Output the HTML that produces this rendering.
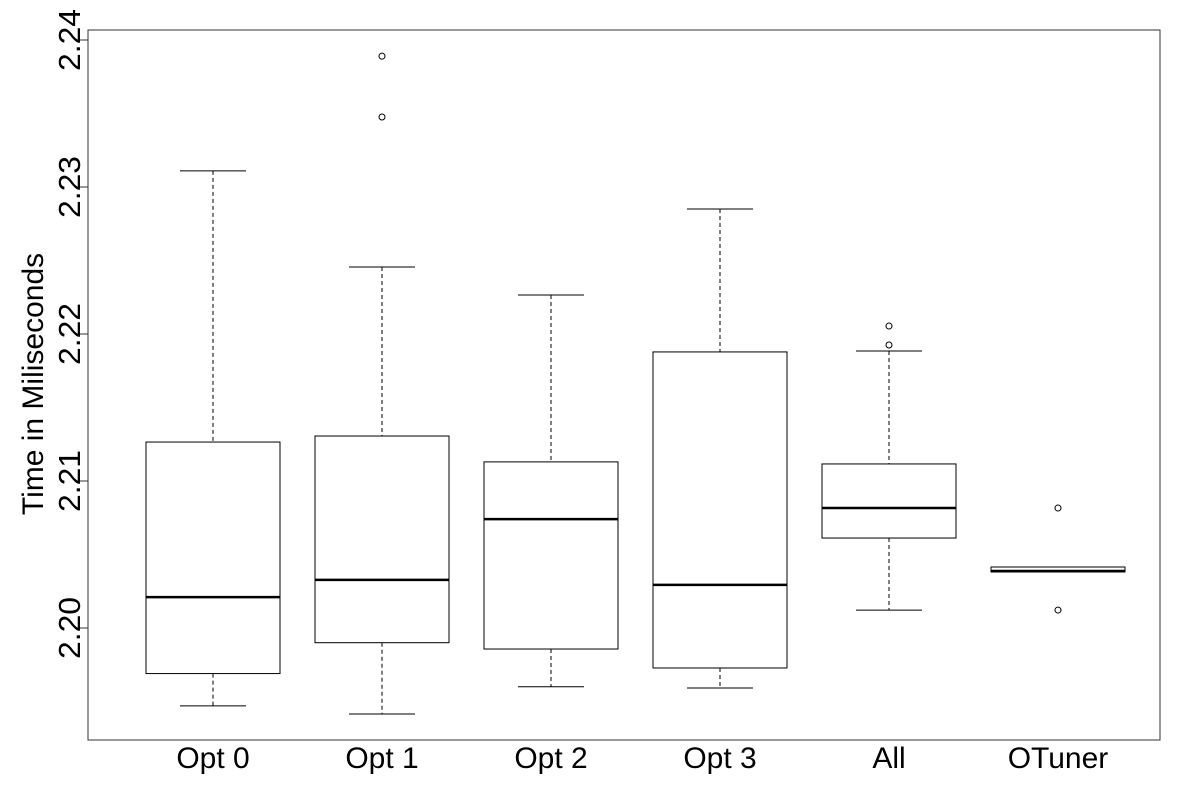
<!DOCTYPE html>
<html><head><meta charset="utf-8"><style>body{margin:0;background:#fff}svg{display:block;font-family:"Liberation Sans",sans-serif}</style></head>
<body>
<svg id="chart" width="1200" height="800">
<rect x="88" y="30" width="1072" height="710" fill="none" stroke="#333" stroke-width="1"/>
<g id="g"></g>
</svg>
<script>
const categories=["Opt 0","Opt 1","Opt 2","Opt 3","All","OTuner"];
const lowerWhisker=[2.1947,2.19415,2.1960,2.19592,2.20122,2.20381];
const q1=[2.1969,2.1990,2.19857,2.19728,2.20612,2.20381];
const median=[2.2021,2.20327,2.20741,2.20293,2.20816,2.20388];
const q3=[2.21265,2.21306,2.2113,2.21878,2.21116,2.20415];
const upperWhisker=[2.2311,2.22456,2.22265,2.2285,2.21884,2.20415];
const outliers=[[],[2.2389,2.23476],[],[],[2.22054,2.21925],[2.20816,2.20122]];
const yTicks=[2.20,2.21,2.22,2.23,2.24];
const yTickLabels=["2.20","2.21","2.22","2.23","2.24"];
const NS="http://www.w3.org/2000/svg";
const g=document.getElementById('g');
function y(v){return 628-(v-2.20)*14700;}
function x(i){return 213+i*169;}
function mk(t,a,parent){const e=document.createElementNS(NS,t);for(const k in a)e.setAttribute(k,a[k]);(parent||g).appendChild(e);return e;}
yTicks.forEach((t,i)=>{
  const l=mk('line',{x1:80,x2:88,y1:y(t),y2:y(t),stroke:'#333'});
  
  
  const tx=mk('text',{x:0,y:0,transform:`translate(80,${y(t)}) rotate(-90)`,'text-anchor':'middle','font-size':31,textLength:62,lengthAdjust:'spacingAndGlyphs'});
  tx.textContent=yTickLabels[i];
  
  
});
const yl=mk('text',{x:0,y:0,transform:'translate(43,384) rotate(-90)','text-anchor':'middle','font-size':30});
yl.textContent='Time in Miliseconds';


categories.forEach((c,i)=>{
  const cx=x(i),hw=67,cw=33;
  const grp=mk('g',{});
  
  
  mk('line',{x1:cx,x2:cx,y1:y(upperWhisker[i]),y2:y(q3[i]),stroke:'#000','stroke-dasharray':'4,3'},grp);
  mk('line',{x1:cx,x2:cx,y1:y(q1[i]),y2:y(lowerWhisker[i]),stroke:'#000','stroke-dasharray':'4,3'},grp);
  mk('line',{x1:cx-cw,x2:cx+cw,y1:y(upperWhisker[i]),y2:y(upperWhisker[i]),stroke:'#000'},grp);
  mk('line',{x1:cx-cw,x2:cx+cw,y1:y(lowerWhisker[i]),y2:y(lowerWhisker[i]),stroke:'#000'},grp);
  mk('rect',{x:cx-hw,y:y(q3[i]),width:2*hw,height:Math.max(1,y(q1[i])-y(q3[i])),fill:'#fff',stroke:'#000'},grp);
  mk('line',{x1:cx-hw,x2:cx+hw,y1:y(median[i]),y2:y(median[i]),stroke:'#000','stroke-width':2.5},grp);
  outliers[i].forEach(o=>{
    const p=mk('circle',{cx:cx,cy:y(o),r:3,fill:'none',stroke:'#000'},grp);
    
    
  });
  const t=mk('text',{x:cx,y:768,'text-anchor':'middle','font-size':30});
  t.textContent=c;
  
  
});
</script>
</body></html>
